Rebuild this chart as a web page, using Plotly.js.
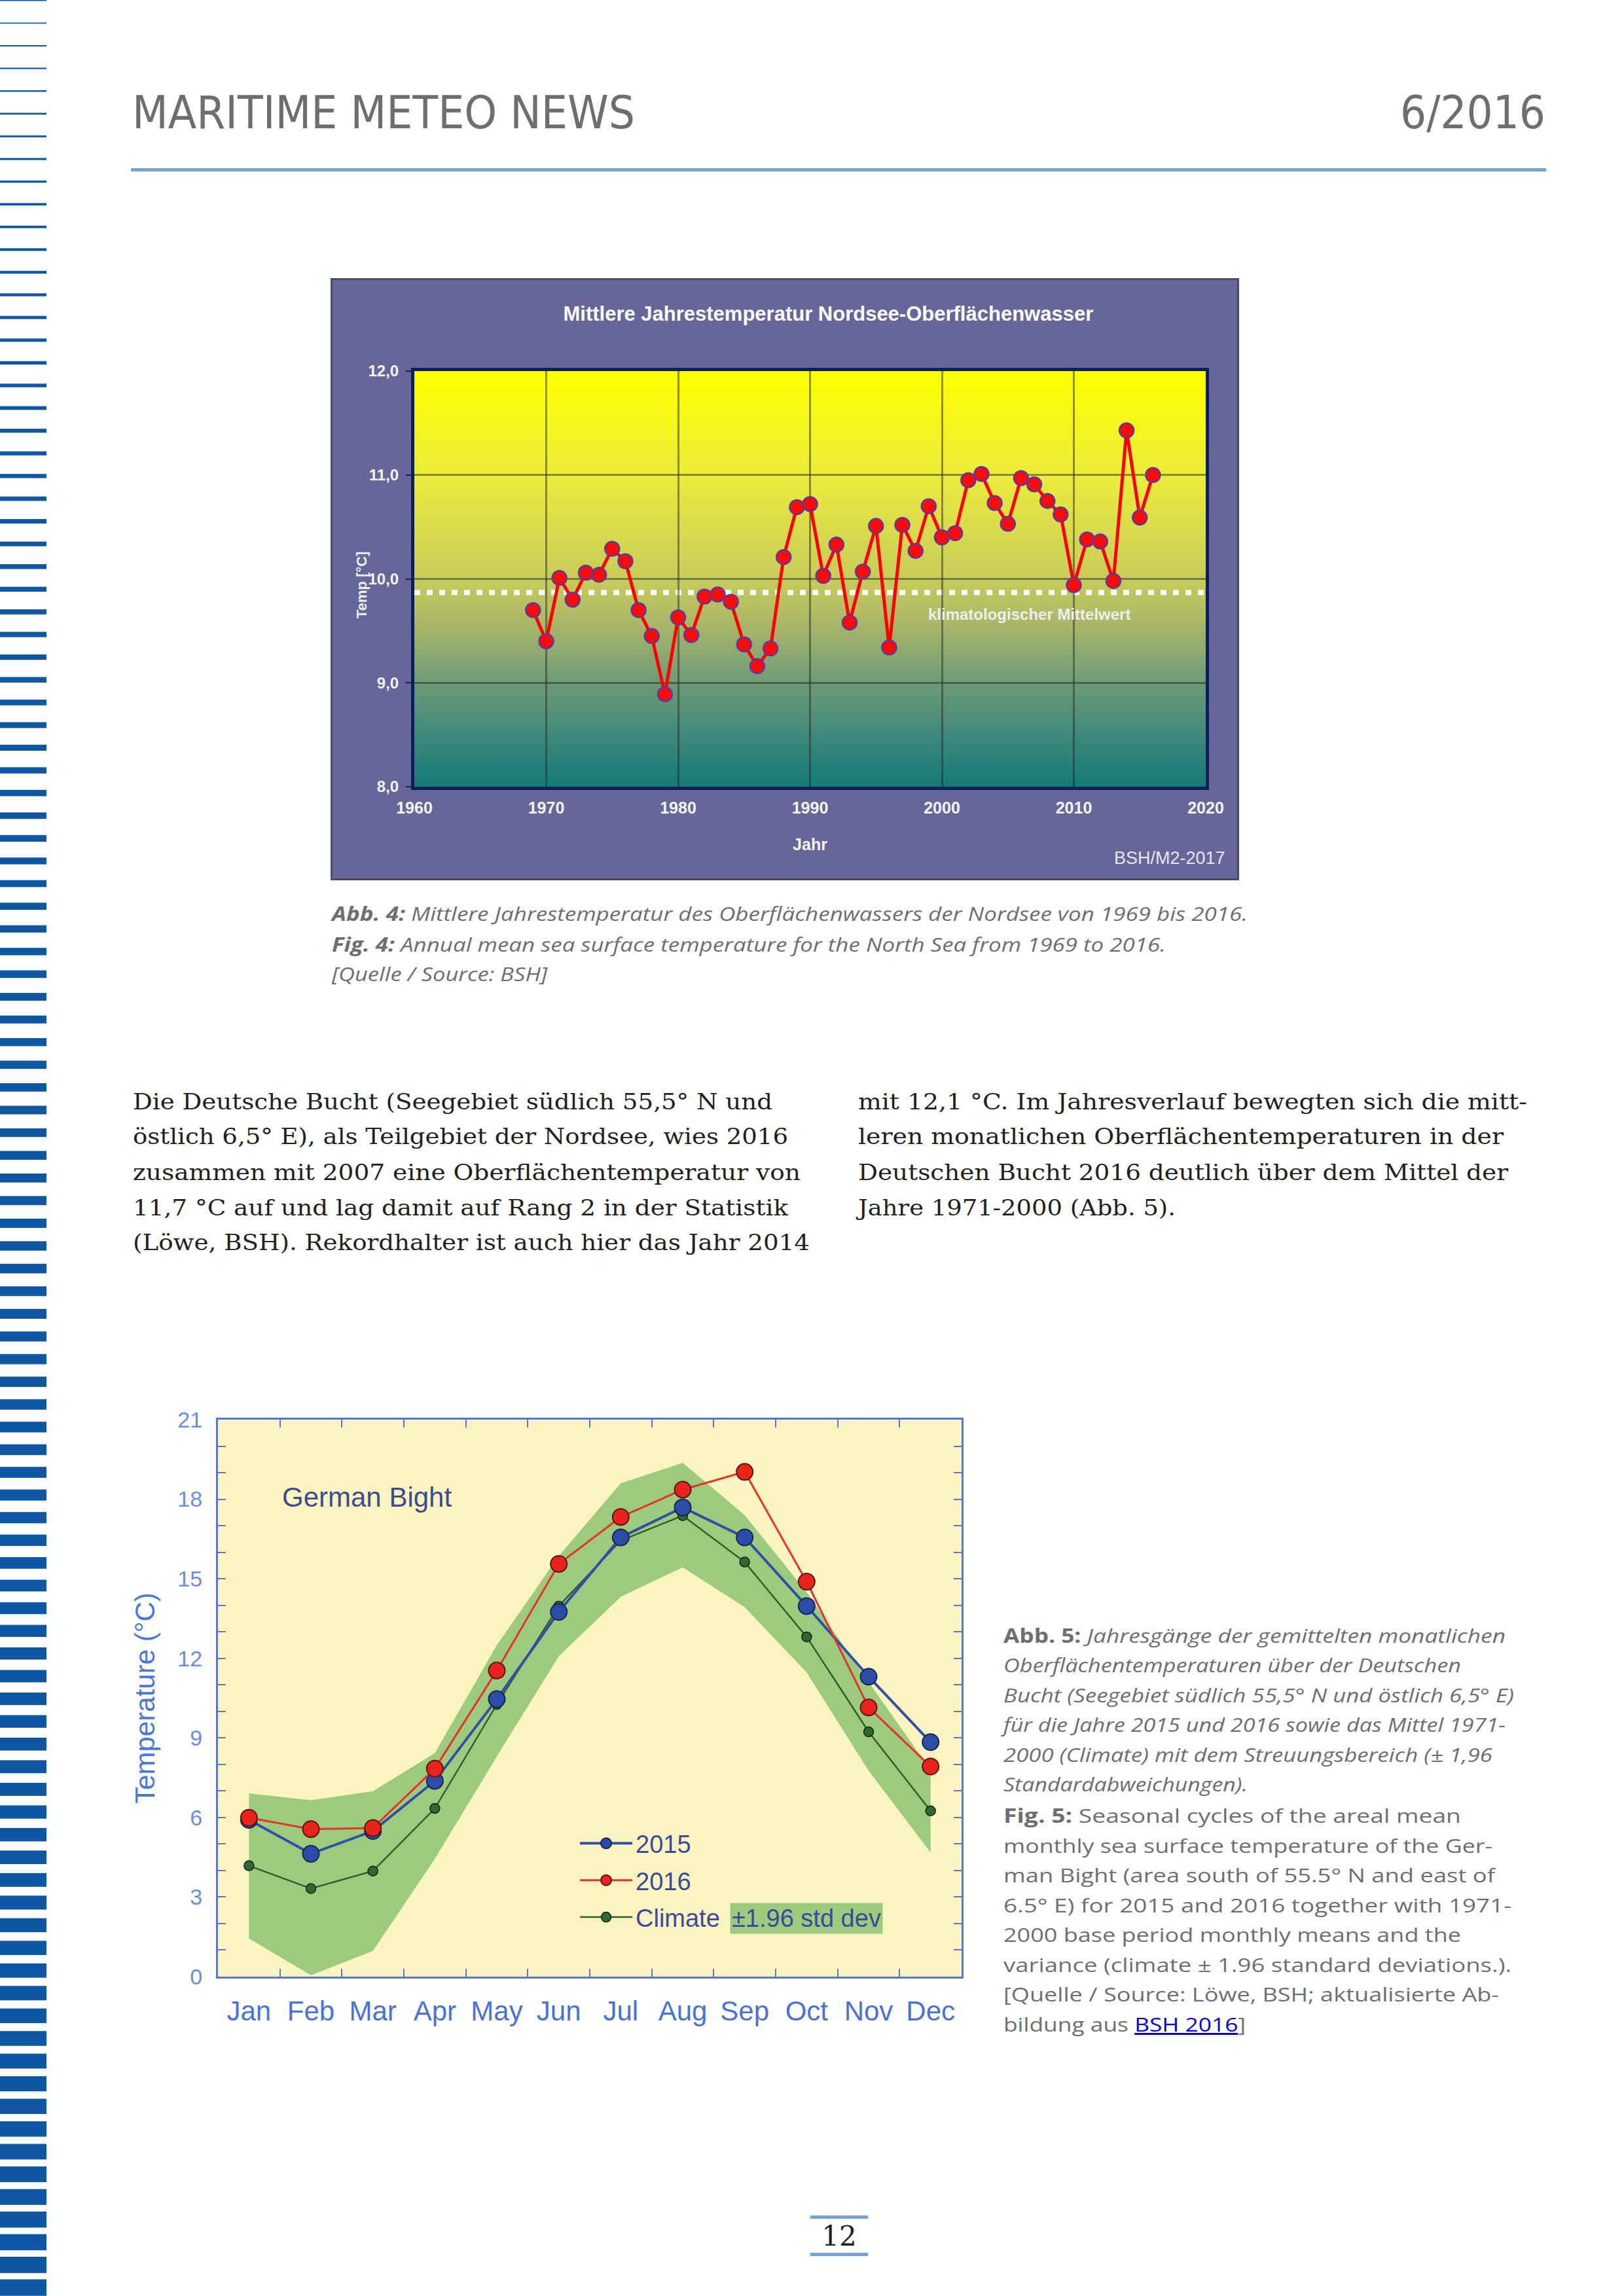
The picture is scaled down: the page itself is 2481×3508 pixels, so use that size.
<!DOCTYPE html>
<html><head><meta charset="utf-8">
<script src="https://cdn.plot.ly/plotly-3.0.1.min.js"></script>
<style>
html,body{margin:0;padding:0;background:#fff;}
#page{position:relative;width:2481px;height:3508px;overflow:hidden;background:#fff;}
#deco{position:absolute;left:0;top:0;}
#chart1{position:absolute;left:508px;top:428px;width:1382px;height:914px;outline:3px solid #4b4b72;}
#chart2{position:absolute;left:180px;top:2140px;width:1300px;height:990px;}
</style></head>
<body><div id="page"><svg id="deco" width="2481" height="3508" xmlns="http://www.w3.org/2000/svg"></svg><div id="chart1"></div><div id="chart2"></div></div>
<script>
// ---------- DATA ----------
const years = [1969,1970,1971,1972,1973,1974,1975,1976,1977,1978,1979,1980,1981,1982,1983,1984,1985,1986,1987,1988,1989,1990,1991,1992,1993,1994,1995,1996,1997,1998,1999,2000,2001,2002,2003,2004,2005,2006,2007,2008,2009,2010,2011,2012,2013,2014,2015,2016];
const sstNorthSea = [9.70,9.40,10.01,9.80,10.06,10.04,10.29,10.17,9.70,9.45,8.89,9.63,9.46,9.83,9.85,9.78,9.37,9.16,9.33,10.21,10.69,10.72,10.03,10.33,9.58,10.07,10.51,9.34,10.52,10.27,10.70,10.40,10.44,10.95,11.01,10.73,10.53,10.97,10.91,10.75,10.62,9.94,10.38,10.36,9.98,11.43,10.59,11.00];
const climMean = 9.87;

const months = ['Jan','Feb','Mar','Apr','May','Jun','Jul','Aug','Sep','Oct','Nov','Dec'];
const sst2015 = [5.91,4.63,5.49,7.38,10.46,13.75,16.56,17.69,16.56,13.97,11.31,8.84];
const sst2016 = [5.99,5.56,5.60,7.84,11.54,15.56,17.33,18.36,19.03,14.89,10.15,7.92];
const sstClimate = [4.18,3.32,3.98,6.34,10.26,13.97,16.44,17.38,15.63,12.81,9.23,6.25];
const bandUpper = [6.91,6.65,6.99,8.43,12.5,15.86,18.6,19.37,17.4,14.5,11.1,7.8];
const bandLower = [1.44,0.05,0.97,4.44,8.3,12.08,14.32,15.43,13.93,11.47,7.76,4.68];

// ---------- PAGE DECORATION AND TEXT ----------
const NS = 'http://www.w3.org/2000/svg';
const svg = document.getElementById('deco');
function mk(tag, attrs, parent){ const e = document.createElementNS(NS, tag); for (const k in attrs) e.setAttribute(k, attrs[k]); (parent||svg).appendChild(e); return e; }
// left stripes
for (let k = 0; k < 102; k++) {
  const y = k * 34.48;
  mk('rect', {x:0, y:y.toFixed(1), width:71, height:(1.5 + 0.0068*y).toFixed(1), fill:'#0d57a5'});
}
// header rule
mk('rect', {x:200, y:257, width:2162, height:5, fill:'#74a3d3'});
// page number rules
mk('rect', {x:1238, y:3385, width:88, height:5, fill:'#74a3d3'});
mk('rect', {x:1238, y:3442, width:88, height:5, fill:'#74a3d3'});

function line(x, y, len, size, family, fill, parts, anchor){
  const t = mk('text', {x:x, y:y, 'font-size':size, 'font-family':family, fill:fill});
  if (len) { t.setAttribute('textLength', len); t.setAttribute('lengthAdjust', 'spacingAndGlyphs'); }
  if (anchor) t.setAttribute('text-anchor', anchor);
  t.setAttribute('xml:space','preserve');
  parts.forEach(p => {
    const s = document.createElementNS(NS, 'tspan');
    s.textContent = p[0];
    const st = p[1] || '';
    if (st.includes('b')) s.setAttribute('font-weight', 'bold');
    if (st.includes('i')) s.setAttribute('font-style', 'italic');
    if (st.includes('u')) { s.setAttribute('fill', '#0000ee'); s.setAttribute('text-decoration', 'underline'); }
    t.appendChild(s);
  });
  return t;
}
const HDR = "'DejaVu Sans Condensed','DejaVu Sans',sans-serif";
const CAP = "'Open Sans','DejaVu Sans',sans-serif";
const SER = "'DejaVu Serif',serif";
const GRAY = '#6d6e71';
line(202, 196, 768, 70, HDR, GRAY, [['MARITIME METEO NEWS']]);
line(2139, 196, 222, 70, HDR, GRAY, [['6/2016']]);

// caption 4
line(507, 1407, 1399, 30, CAP, GRAY, [['Abb. 4: ','bi'],['Mittlere Jahrestemperatur des Oberflächenwassers der Nordsee von 1969 bis 2016.','i']]);
line(507, 1454, 1274, 30, CAP, GRAY, [['Fig. 4: ','bi'],['Annual mean sea surface temperature for the North Sea from 1969 to 2016.','i']]);
line(507, 1499, 329, 30, CAP, GRAY, [['[Quelle / Source: BSH]','i']]);

// body text
const bodyL = ['Die Deutsche Bucht (Seegebiet südlich 55,5° N und','östlich 6,5° E), als Teilgebiet der Nordsee, wies 2016','zusammen mit 2007 eine Oberflächentemperatur von','11,7 °C auf und lag damit auf Rang 2 in der Statistik','(Löwe, BSH). Rekordhalter ist auch hier das Jahr 2014'];
const bodyLw = [977, 1001, 1020, 1001, 1034];
const bodyR = ['mit 12,1 °C. Im Jahresverlauf bewegten sich die mitt-','leren monatlichen Oberflächentemperaturen in der','Deutschen Bucht 2016 deutlich über dem Mittel der','Jahre 1971-2000 (Abb. 5).'];
const bodyRw = [1022, 986, 993, 485];
const bodyY = [1695, 1748, 1803, 1857, 1910];
bodyL.forEach((s,i) => line(203, bodyY[i], bodyLw[i], 33, SER, '#231f20', [[s]]));
bodyR.forEach((s,i) => line(1311, bodyY[i], bodyRw[i], 33, SER, '#231f20', [[s]]));

// caption 5
const cap5 = [
  [['Abb. 5: ','b'],['Jahresgänge der gemittelten monatlichen','i']],
  [['Oberflächentemperaturen über der Deutschen','i']],
  [['Bucht (Seegebiet südlich 55,5° N und östlich 6,5° E)','i']],
  [['für die Jahre 2015 und 2016 sowie das Mittel 1971-','i']],
  [['2000 (Climate) mit dem Streuungsbereich (± 1,96','i']],
  [['Standardabweichungen).','i']],
  [['Fig. 5: ','b'],['Seasonal cycles of the areal mean']],
  [['monthly sea surface temperature of the Ger-']],
  [['man Bight (area south of 55.5° N and east of']],
  [['6.5° E) for 2015 and 2016 together with 1971-']],
  [['2000 base period monthly means and the']],
  [['variance (climate ± 1.96 standard deviations.).']],
  [['[Quelle / Source: Löwe, BSH; aktualisierte Ab-']],
  [['bildung aus '],['BSH 2016','u'],[']']]
];
const cap5w = [767, 699, 780, 767, 747, 373, 699, 747, 751, 776, 699, 776, 757, 370];
const cap5y = [2510, 2555, 2601, 2646, 2692, 2737, 2785, 2831, 2876, 2922, 2967, 3013, 3058, 3104];
cap5.forEach((p,i) => line(1533, cap5y[i], cap5w[i], 30, CAP, GRAY, p));

// page number
line(1282, 3431, null, 42, SER, '#231f20', [['12']], 'middle');

// ---------- CHART 1 ----------
const gradSvg = '<svg xmlns="http://www.w3.org/2000/svg" width="100" height="100" viewBox="0 0 100 100" preserveAspectRatio="none"><defs><linearGradient id="g" x1="0" y1="0" x2="0" y2="1">' +
  '<stop offset="0" stop-color="#ffff00"/><stop offset="0.25" stop-color="#ecec3c"/><stop offset="0.5" stop-color="#c8cc5a"/>' +
  '<stop offset="0.62" stop-color="#a6b46a"/><stop offset="0.75" stop-color="#6e9a78"/><stop offset="0.88" stop-color="#3d887a"/><stop offset="1" stop-color="#137a78"/>' +
  '</linearGradient></defs><rect width="100" height="100" fill="url(#g)"/></svg>';
const gradUrl = 'data:image/svg+xml;charset=utf-8,' + encodeURIComponent(gradSvg);

const WF = 'Liberation Sans, Arial, sans-serif';
const trace1 = {
  x: years, y: sstNorthSea, type:'scatter', mode:'lines+markers',
  line:{color:'#ff0000', width:5},
  marker:{size:22, color:'#ff0808', line:{color:'#5b3a9c', width:2.5}},
  showlegend:false, hoverinfo:'skip'
};
const layout1 = {
  width:1382, height:914,
  margin:{l:125, r:48, t:139, b:140},
  paper_bgcolor:'#66669a', plot_bgcolor:'rgba(0,0,0,0)',
  separators:',.',
  font:{family:WF, color:'#ffffff'},
  title:{text:'Mittlere Jahrestemperatur Nordsee-Oberflächenwasser', font:{size:31, color:'#ffffff', weight:'bold', family:WF},
         xref:'container', yref:'container', x:0.548, y:0.944, xanchor:'center', yanchor:'middle'},
  images:[{source:gradUrl, xref:'paper', yref:'paper', x:0, y:1, sizex:1, sizey:1, sizing:'stretch', xanchor:'left', yanchor:'top', layer:'below'}],
  xaxis:{range:[1960,2020], tick0:1960, dtick:10, tickformat:'d', showgrid:true, gridcolor:'rgba(40,40,40,0.5)', gridwidth:3,
         showline:true, linecolor:'#0b1f5c', linewidth:5, mirror:true, ticks:'', zeroline:false,
         tickfont:{size:25, color:'#f4f4f4', weight:'bold'}, ticklabelstandoff:6,
         title:{text:'Jahr', font:{size:25, color:'#f4f4f4', weight:'bold'}, standoff:36}},
  yaxis:{range:[8,12], tick0:8, dtick:1, tickformat:'.1f', showgrid:true, gridcolor:'rgba(40,40,40,0.5)', gridwidth:3,
         showline:true, linecolor:'#0b1f5c', linewidth:5, mirror:true, ticks:'outside', ticklen:8, tickwidth:2, tickcolor:'#1a1f4a', zeroline:false,
         tickfont:{size:24, color:'#f4f4f4', weight:'bold'}, ticklabelstandoff:6},
  shapes:[{type:'line', xref:'paper', x0:0, x1:1, yref:'y', y0:climMean, y1:climMean, layer:'between',
           line:{color:'#ffffff', width:8, dash:'9px,10px'}}],
  annotations:[
    {text:'klimatologischer Mittelwert', xref:'paper', yref:'y', x:0.648, y:9.66, xanchor:'left', yanchor:'middle', showarrow:false,
     font:{size:24, color:'#eeeeee', weight:'bold'}},
    {text:'Temp [°C]', xref:'paper', yref:'paper', x:-0.067, y:0.4866, xanchor:'center', yanchor:'middle', textangle:-90, showarrow:false,
     font:{size:22, color:'#f0f0f0', weight:'bold'}},
    {text:'BSH/M2-2017', xref:'paper', yref:'paper', x:1.0265, y:-0.172, xanchor:'right', yanchor:'middle', showarrow:false,
     font:{size:27, color:'#e6e6f0'}}
  ]
};
Plotly.newPlot('chart1', [trace1], layout1, {staticPlot:true, displayModeBar:false});

// ---------- CHART 2 ----------
const AX = '#5577cc';
const traces2 = [
  {x:months, y:bandLower, type:'scatter', mode:'lines', line:{width:0, color:'#9dcb7e'}, showlegend:false, hoverinfo:'skip'},
  {x:months, y:bandUpper, type:'scatter', mode:'lines', line:{width:0, color:'#9dcb7e'}, fill:'tonexty', fillcolor:'#9dcb7e', showlegend:false, hoverinfo:'skip'},
  {x:months, y:sstClimate, name:'Climate', type:'scatter', mode:'lines+markers', legendgroup:'c', legendrank:3,
   line:{color:'#2f5f30', width:2.5}, marker:{size:15, color:'#2e6a30', line:{color:'#132013', width:1.5}}},
  {x:months, y:sst2015, name:'2015', type:'scatter', mode:'lines+markers', legendgroup:'a', legendrank:1,
   line:{color:'#3050a8', width:4}, marker:{size:25, color:'#2b4da8', line:{color:'#1a2550', width:2}}},
  {x:months, y:sst2016, name:'2016', type:'scatter', mode:'lines+markers', legendgroup:'b', legendrank:2,
   line:{color:'#e63228', width:3}, marker:{size:25, color:'#e8241c', line:{color:'#5a1410', width:2}}}
];
const layout2 = {
  width:1300, height:990,
  margin:{l:153, r:11, t:29, b:110},
  paper_bgcolor:'#ffffff', plot_bgcolor:'#fbf4c1',
  font:{family:WF},
  showlegend:true,
  legend:{x:0.4824, xanchor:'left', y:0.276, yanchor:'top', bgcolor:'rgba(0,0,0,0)', borderwidth:0,
          font:{size:38, color:'#3b4a9c'}, itemwidth:80, tracegroupgap:4, traceorder:'grouped'},
  xaxis:{type:'category', range:[-0.5,11.5], tickson:'boundaries', ticks:'inside', ticklen:12, tickwidth:2, tickcolor:AX,
         showline:true, linecolor:AX, linewidth:3, mirror:'ticks', showgrid:false, zeroline:false,
         tickfont:{size:42, color:'#4a72d6'}, ticklabelstandoff:14},
  yaxis:{range:[0,21], tick0:0, dtick:3, ticks:'inside', ticklen:12, tickwidth:2, tickcolor:AX,
         minor:{dtick:1, ticks:'inside', ticklen:12, tickwidth:2, tickcolor:AX, showgrid:false},
         showline:true, linecolor:AX, linewidth:3, mirror:'ticks', showgrid:false, zeroline:false,
         tickfont:{size:34, color:'#6a8ee0'}, ticklabelstandoff:14,
         title:{text:'Temperature (°C)', font:{size:42, color:'#4a78d8'}, standoff:22}},
  annotations:[
    {text:'German Bight', xref:'paper', yref:'paper', x:0.0845, y:0.861, xanchor:'left', yanchor:'middle', showarrow:false,
     font:{size:42, color:'#3c4c8e'}},
    {text:'±1.96 std dev', xref:'paper', yref:'paper', x:0.688, y:0.1046, xanchor:'left', yanchor:'middle', showarrow:false,
     font:{size:38, color:'#3b4a9c'}, bgcolor:'#9dcb7e', borderpad:2}
  ]
};
Plotly.newPlot('chart2', traces2, layout2, {staticPlot:true, displayModeBar:false});
</script>
</body></html>
